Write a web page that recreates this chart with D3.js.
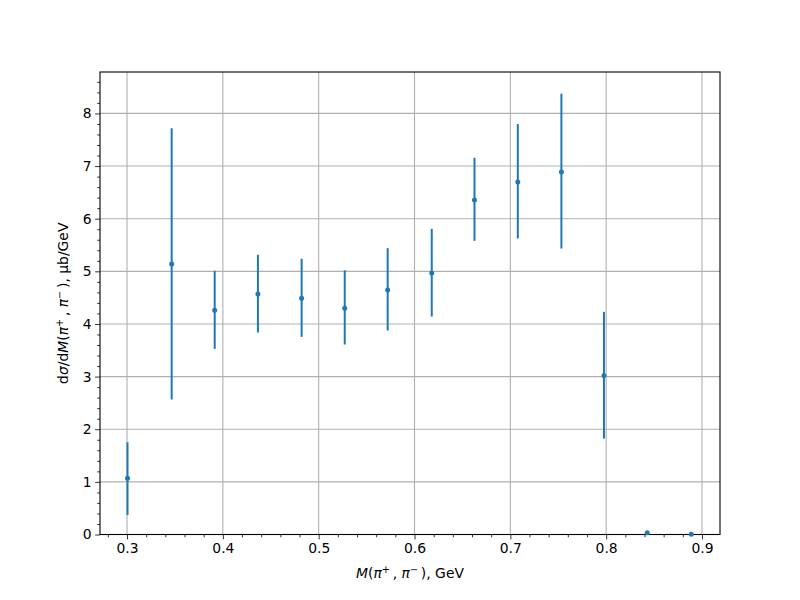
<!DOCTYPE html>
<html><head><meta charset="utf-8">
<script src="https://cdn.jsdelivr.net/npm/d3@7"></script>
<style>body{margin:0;background:#fff}svg{display:block}text{font-family:"DejaVu Sans",sans-serif}</style>
</head><body><svg id="c" width="800" height="600"></svg>
<script>
const mass = [0.3005,0.3466,0.3915,0.4366,0.4822,0.5272,0.5720,0.6180,0.6626,0.7078,0.7533,0.7977,0.8429,0.8888];
const xsec = [1.068,5.137,4.262,4.567,4.490,4.300,4.643,4.966,6.354,6.696,6.886,3.019,0.035,0.004];
const errLow = [0.697,2.574,0.735,0.730,0.735,0.690,0.768,0.825,0.774,1.072,1.453,1.198,0,0];
const errHigh = [0.685,2.583,0.748,0.747,0.748,0.720,0.797,0.842,0.804,1.104,1.489,1.211,0,0];
const xTicks = [0.3,0.4,0.5,0.6,0.7,0.8,0.9];
const yTicks = [0,1,2,3,4,5,6,7,8];

const svg = d3.select("#c");
const L=100,R=720,T=72,B=534.5;
const x = d3.scaleLinear().domain([0.2718,0.9188]).range([L,R]);
const y = d3.scaleLinear().domain([0,8.787]).range([B,T]);
const blue="#1f77b4";

// grid
const g = svg.append("g");
g.selectAll(".gx").data(xTicks).join("line").attr("x1",d=>x(d)).attr("x2",d=>x(d)).attr("y1",T).attr("y2",B).attr("stroke","#b0b0b0").attr("stroke-width",1.1);
g.selectAll(".gy").data(yTicks).join("line").attr("y1",d=>y(d)).attr("y2",d=>y(d)).attr("x1",L).attr("x2",R).attr("stroke","#b0b0b0").attr("stroke-width",1.1);

// axes
const xAxis = d3.axisBottom(x).tickValues(xTicks).tickFormat(d3.format(".1f")).tickSize(4.9).tickPadding(3.5);
const xMinor = d3.range(0.28,0.92,0.02).filter(v=>Math.abs(v*10-Math.round(v*10))>1e-6);
const yMinor = d3.range(0.2,8.79,0.2).filter(v=>Math.abs(v-Math.round(v))>1e-6);
const ax = svg.append("g").attr("transform",`translate(0,${B})`);
ax.call(xAxis);
ax.append("g").call(d3.axisBottom(x).tickValues(xMinor).tickFormat("").tickSize(2.8));
const ay = svg.append("g").attr("transform",`translate(${L},0)`);
ay.call(d3.axisLeft(y).tickValues(yTicks).tickFormat(d3.format("d")).tickSize(4.9).tickPadding(3.5));
ay.append("g").call(d3.axisLeft(y).tickValues(yMinor).tickFormat("").tickSize(2.8));
svg.selectAll(".domain").remove();
svg.selectAll(".tick line").attr("stroke","#000").attr("stroke-width",0.8);
svg.selectAll(".tick text").attr("font-size","13.9px").attr("fill","#000").attr("font-family","DejaVu Sans");

// frame
svg.append("rect").attr("x",L).attr("y",T).attr("width",R-L).attr("height",B-T).attr("fill","none").attr("stroke","#000").attr("stroke-width",1.1);

// data
const data = mass.map((m,i)=>({m,v:xsec[i],lo:errLow[i],hi:errHigh[i]}));
const dg = svg.append("g");
dg.selectAll(".eb").data(data.filter(d=>d.lo>0||d.hi>0)).join("line")
  .attr("x1",d=>x(d.m)).attr("x2",d=>x(d.m)).attr("y1",d=>y(d.v-d.lo)).attr("y2",d=>y(d.v+d.hi))
  .attr("stroke",blue).attr("stroke-width",2);
dg.selectAll("circle").data(data).join("circle").attr("cx",d=>x(d.m)).attr("cy",d=>y(d.v)).attr("r",2.5).attr("fill",blue);

// labels
function lab(sel, parts){
  parts.forEach(p=>{
    const t = sel.append("tspan").text(p.t);
    if(p.i) t.attr("font-style","italic");
    if(p.s) t.attr("font-size","9.7px");
    if(p.dy) t.attr("dy",p.dy);
  });
}
const xl = svg.append("text").attr("x",(L+R)/2).attr("y",578).attr("text-anchor","middle").attr("font-size","13.9px");
lab(xl,[{t:"M",i:1},{t:"("},{t:"π",i:1},{t:"+",s:1,dy:-5},{t:"\u2009, ",dy:5},{t:"π",i:1},{t:"−",s:1,dy:-5},{t:"\u2009), GeV",dy:5}]);

const yl = svg.append("text").attr("transform",`translate(68,${(T+B)/2}) rotate(-90)`).attr("text-anchor","middle").attr("font-size","13.9px");
lab(yl,[{t:"d"},{t:"σ",i:1},{t:"/d"},{t:"M",i:1},{t:"("},{t:"π",i:1},{t:"+",s:1,dy:-5},{t:"\u2009, ",dy:5},{t:"π",i:1},{t:"−",s:1,dy:-5},{t:"\u2009), μb/GeV",dy:5}]);
</script></body></html>
